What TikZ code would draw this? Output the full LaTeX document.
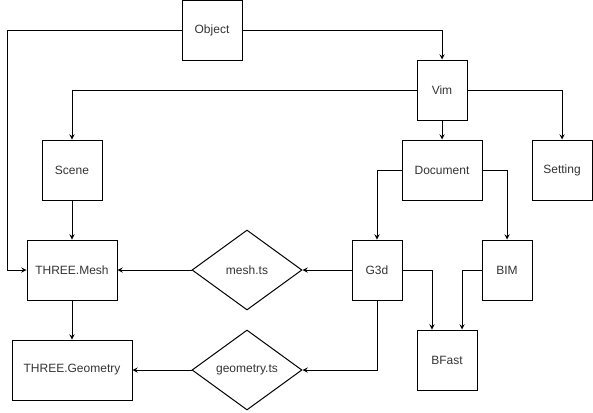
\documentclass[tikz,border=0pt]{standalone}
\usepackage{fontspec}
\setmainfont{Liberation Sans}
\usetikzlibrary{shapes.geometric}

\tikzset{
    block/.style={draw, line width=0.75pt, minimum width=45pt, minimum height=45pt,
        inner sep=2pt, font=\fontsize{9}{11}\selectfont, text=black!80},
    decision/.style={draw, diamond, line width=0.75pt, minimum width=82.5pt,
        minimum height=60pt, inner sep=0pt, font=\fontsize{9}{11}\selectfont, text=black!80},
}

\begin{document}
\begin{tikzpicture}[>=stealth, x=0.75pt, y=-0.75pt, line width=0.75pt]
    \useasboundingbox (0, 0) rectangle (593, 412);

    % Top row
    \node[block] (object) at (212, 30) {Object};
    \node[block, minimum width=37.5pt] (vim) at (442, 90) {Vim};

    % Second row
    \node[block] (scene) at (72, 170) {Scene};
    \node[block, minimum width=60pt] (document) at (442, 170) {Document};
    \node[block] (setting) at (562, 170) {Setting};

    % Third row
    \node[block, minimum width=67.5pt] (mesh) at (72, 270) {THREE.Mesh};
    \node[decision] (meshts) at (247, 270) {mesh.ts};
    \node[block, minimum width=37.5pt] (g3d) at (377, 270) {G3d};
    \node[block, minimum width=37.5pt] (bim) at (507, 270) {BIM};

    % Bottom row
    \node[block, minimum width=90pt] (geometry) at (72, 370) {THREE.Geometry};
    \node[decision] (geometryts) at (247, 370) {geometry.ts};
    \node[block] (bfast) at (447, 360) {BFast};

    % Rail on the left
    \coordinate (leftrail) at (7, 30);

    % Lines
    \draw[->] (object) -- (leftrail) |- (mesh);
    \draw[->] (object) -| (vim);
    \draw[->] (vim) -| (scene);
    \draw[->] (vim) -- (document);
    \draw[->] (vim) -| (setting);
    \draw[->] (document) -| (g3d);
    \draw[->] (document) -| (bim);
    \draw[->] (scene) -- (mesh);
    \draw[->] (mesh) -- (geometry);
    \draw[->] (g3d) -- (meshts);
    \draw[->] (meshts) -- (mesh);
    \draw[->] (g3d) |- (geometryts);
    \draw[->] (geometryts) -- (geometry);
    \draw[->] (g3d) -| ([xshift=-11.25pt]bfast.north);
    \draw[->] (bim) -| ([xshift=11.25pt]bfast.north);
\end{tikzpicture}
\end{document}
